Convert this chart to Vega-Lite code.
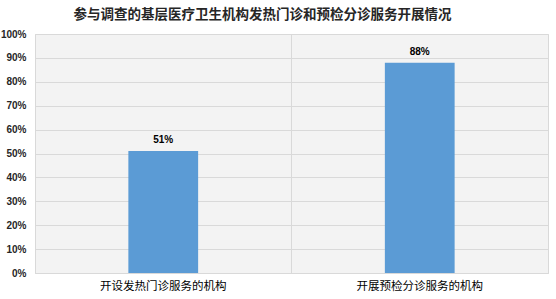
{
  "$schema": "https://vega.github.io/schema/vega-lite/v6.json",
  "autosize": "none",
  "width": 513,
  "height": 239,
  "padding": {"left": 35, "top": 34, "right": 8, "bottom": 26},
  "background": "white",
  "title": {
    "text": "参与调查的基层医疗卫生机构发热门诊和预检分诊服务开展情况",
    "font": "Noto Sans CJK SC",
    "fontSize": 13.5,
    "fontWeight": "bold",
    "color": "#262626",
    "anchor": "middle",
    "dx": -29,
    "dy": 4,
    "offset": 12
  },
  "data": {
    "values": [
      {"category": "开设发热门诊服务的机构", "share": 0.51},
      {"category": "开展预检分诊服务的机构", "share": 0.88}
    ]
  },
  "encoding": {
    "x": {
      "field": "category",
      "type": "nominal",
      "sort": null,
      "scale": {"paddingInner": 0, "paddingOuter": 0},
      "axis": {
        "title": null,
        "labelAngle": 0,
        "labelFont": "Noto Sans CJK SC",
        "labelFontSize": 11.5,
        "labelColor": "#000000",
        "labelPadding": 7,
        "ticks": false,
        "domainColor": "#d9d9d9",
        "grid": true,
        "bandPosition": 0,
        "gridColor": "#d9d9d9"
      }
    },
    "y": {
      "field": "share",
      "type": "quantitative",
      "scale": {"domain": [0, 1]},
      "axis": {
        "title": null,
        "values": [0, 0.1, 0.2, 0.3, 0.4, 0.5, 0.6, 0.7, 0.8, 0.9, 1],
        "format": ".0%",
        "labelFont": "Liberation Sans",
        "labelFontSize": 10,
        "labelFontWeight": "bold",
        "labelColor": "#262626",
        "labelPadding": 9,
        "ticks": false,
        "domain": false,
        "gridColor": "#d9d9d9"
      }
    }
  },
  "layer": [
    {
      "mark": {"type": "bar", "color": "#5b9bd5", "width": {"band": 0.272}}
    },
    {
      "mark": {
        "type": "text",
        "baseline": "bottom",
        "dy": -6,
        "font": "Liberation Sans",
        "fontSize": 10,
        "fontWeight": "bold",
        "color": "#000000"
      },
      "encoding": {
        "text": {"field": "share", "type": "quantitative", "format": ".0%"}
      }
    }
  ],
  "config": {
    "view": {"fill": "#f3f3f3", "stroke": "#d9d9d9", "strokeWidth": 1}
  }
}
